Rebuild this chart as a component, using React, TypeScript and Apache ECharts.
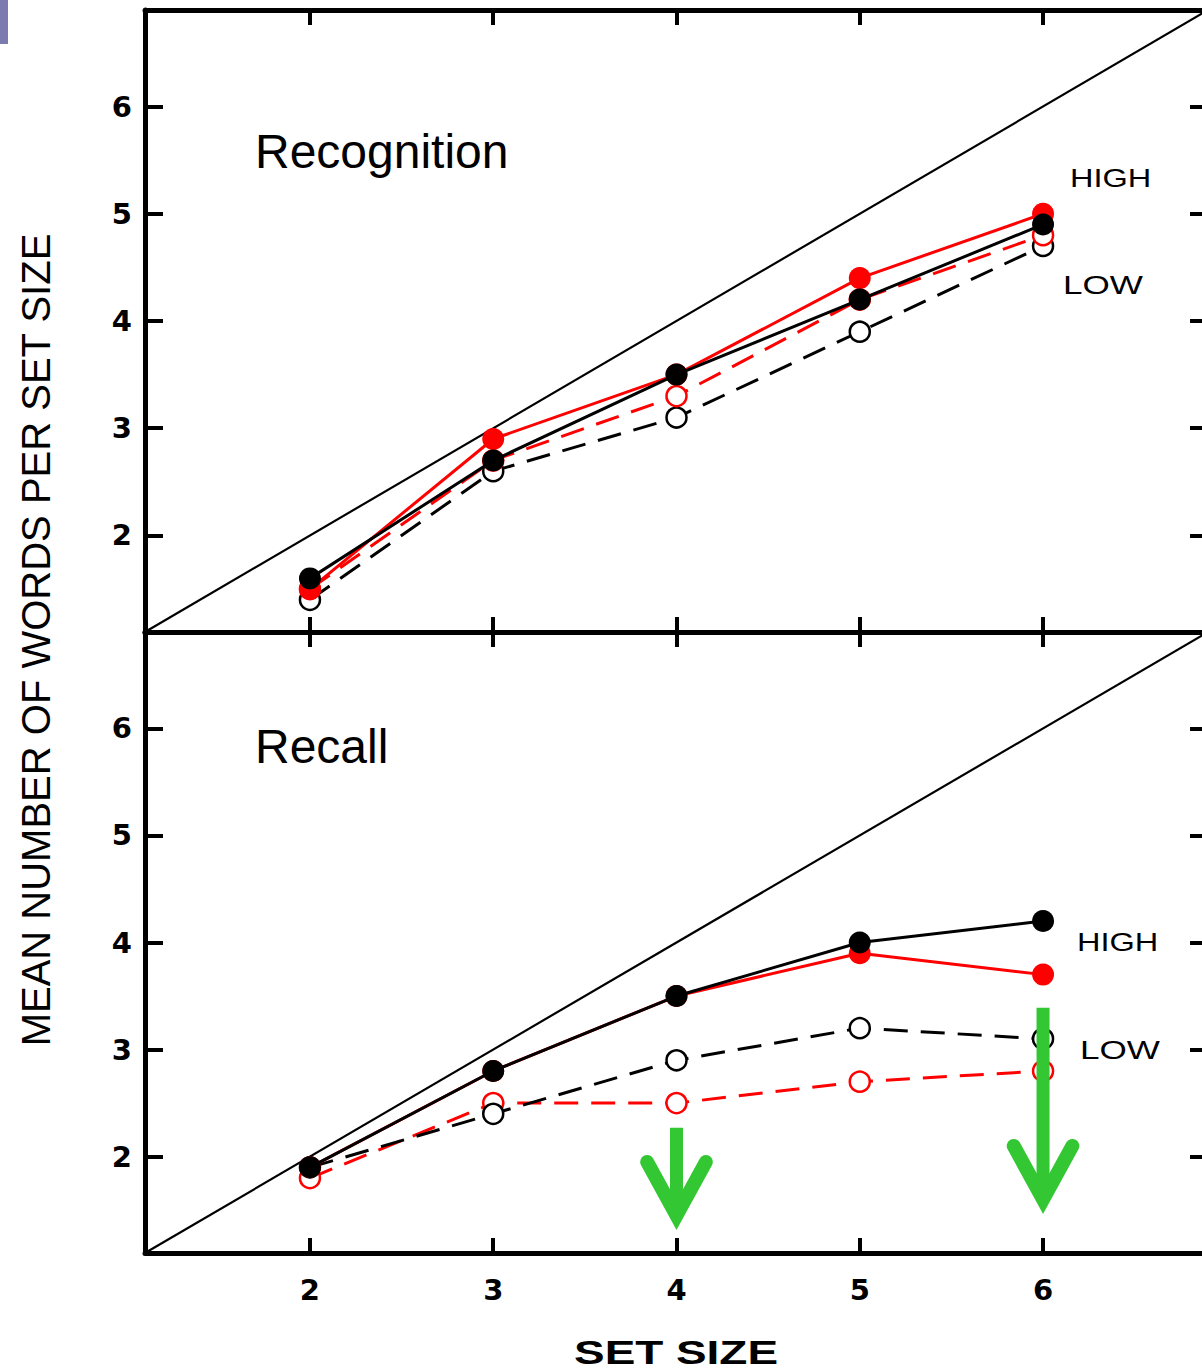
import React, { useEffect, useRef } from "react";
import * as echarts from "echarts";

// ---- data ----
const setSizes = [2, 3, 4, 5, 6];
const tickValues = [2, 3, 4, 5, 6];
const axisRange = [1.1, 6.9];

const recogBlackFilled = [1.6, 2.7, 3.5, 4.2, 4.9];
const recogRedFilled = [1.5, 2.9, 3.5, 4.4, 5.0];
const recogRedOpen = [1.5, 2.7, 3.3, 4.2, 4.8];
const recogBlackOpen = [1.4, 2.6, 3.1, 3.9, 4.7];

const recallBlackFilled = [1.9, 2.8, 3.5, 4.0, 4.2];
const recallRedFilled = [1.9, 2.8, 3.5, 3.9, 3.7];
const recallBlackOpen = [1.9, 2.4, 2.9, 3.2, 3.1];
const recallRedOpen = [1.8, 2.5, 2.5, 2.7, 2.8];

// annotation arrows (recall panel, data coords)
const arrowX = [4, 6];
const arrowTail = [2.27, 3.39];
const arrowHead = [1.45, 1.6];

const RED = "#ff0000";
const BLACK = "#000000";
const GREEN = "#33c833";

function pts(ys: number[]) {
  return setSizes.map((x, i) => [x, ys[i]]);
}

const tickFont = {
  fontFamily: "DejaVu Sans",
  fontWeight: "bold",
  fontSize: 29,
  color: BLACK,
};

function xAx(gridIndex: number, position: string, showLabels: boolean) {
  return {
    type: "value",
    gridIndex,
    position,
    min: axisRange[0],
    max: axisRange[1],
    axisLine: { show: true, onZero: false, lineStyle: { color: BLACK, width: 5 } },
    axisTick: {
      show: true,
      inside: true,
      length: 15,
      customValues: tickValues,
      lineStyle: { color: BLACK, width: 4 },
    },
    axisLabel: {
      show: showLabels,
      customValues: tickValues,
      margin: 22,
      ...tickFont,
    },
    splitLine: { show: false },
  };
}

function yAx(gridIndex: number, position: string, showLabels: boolean) {
  return {
    type: "value",
    gridIndex,
    position,
    min: axisRange[0],
    max: axisRange[1],
    axisLine: { show: true, onZero: false, lineStyle: { color: BLACK, width: 5 } },
    axisTick: {
      show: true,
      inside: true,
      length: 18,
      customValues: tickValues,
      lineStyle: { color: BLACK, width: 4 },
    },
    axisLabel: {
      show: showLabels,
      customValues: tickValues,
      margin: 13,
      ...tickFont,
    },
    splitLine: { show: false },
  };
}

function dataSeries(axisIdx: number, ys: number[], color: string, filled: boolean, z: number) {
  return {
    type: "line",
    xAxisIndex: axisIdx,
    yAxisIndex: axisIdx,
    data: pts(ys),
    symbol: "circle",
    symbolSize: filled ? 22 : 20,
    itemStyle: filled
      ? { color }
      : { color: "#ffffff", borderColor: color, borderWidth: 2.5 },
    lineStyle: { color, width: 3, type: filled ? "solid" : [24, 13] },
    z,
    silent: true,
  };
}

function diagSeries(axisIdx: number) {
  return {
    type: "line",
    xAxisIndex: axisIdx,
    yAxisIndex: axisIdx,
    data: [
      [axisRange[0], axisRange[0]],
      [axisRange[1], axisRange[1]],
    ],
    symbol: "none",
    lineStyle: { color: BLACK, width: 2.2 },
    z: 1,
    silent: true,
  };
}

function arrowSeries() {
  const out: any[] = [];
  arrowX.forEach((x, i) => {
    out.push({
      type: "line",
      xAxisIndex: 2,
      yAxisIndex: 2,
      data: [
        [x, arrowTail[i]],
        [x, arrowHead[i]],
      ],
      symbol: "none",
      lineStyle: { color: GREEN, width: 13, cap: "butt" },
      z: 20,
      silent: true,
    });
    out.push({
      type: "line",
      xAxisIndex: 2,
      yAxisIndex: 2,
      data: [
        [x - 0.16, arrowHead[i] + 0.5],
        [x, arrowHead[i]],
        [x + 0.16, arrowHead[i] + 0.5],
      ],
      symbol: "none",
      lineStyle: { color: GREEN, width: 14, cap: "round", join: "miter" },
      z: 20,
      silent: true,
    });
  });
  return out;
}

function label(text: string, x: number, y: number, fontSize: number, opts: any = {}) {
  return {
    type: "text",
    x,
    y,
    rotation: opts.rotation || 0,
    scaleX: opts.scaleX || 1,
    z: 50,
    style: {
      text,
      fill: BLACK,
      fontSize,
      fontFamily: opts.fontFamily || "Liberation Sans, Arial, sans-serif",
      fontWeight: opts.fontWeight || "normal",
      textAlign: opts.align || "left",
      align: opts.align || "left",
      textVerticalAlign: "middle",
      verticalAlign: "middle",
    },
  };
}

export default function App() {
  const ref = useRef<HTMLDivElement>(null);

  useEffect(() => {
    document.body.style.margin = "0";
    const chart = echarts.init(ref.current!, null, { renderer: "svg" });
    const option: any = {
      animation: false,
      backgroundColor: "#ffffff",
      grid: [
        { left: 145, top: 10, width: 1063, height: 622, outerBoundsMode: "none", containLabel: false },
        { left: 145, top: 632, width: 1063, height: 621, outerBoundsMode: "none", containLabel: false },
      ],
      xAxis: [
        xAx(0, "bottom", false),
        xAx(0, "top", false),
        xAx(1, "bottom", true),
        xAx(1, "top", false),
      ],
      yAxis: [
        yAx(0, "left", true),
        yAx(0, "right", false),
        yAx(1, "left", true),
        yAx(1, "right", false),
      ],
      series: [
        diagSeries(0),
        dataSeries(0, recogBlackOpen, BLACK, false, 3),
        dataSeries(0, recogRedOpen, RED, false, 4),
        dataSeries(0, recogRedFilled, RED, true, 5),
        dataSeries(0, recogBlackFilled, BLACK, true, 6),
        diagSeries(2),
        dataSeries(2, recallRedOpen, RED, false, 3),
        dataSeries(2, recallBlackOpen, BLACK, false, 4),
        dataSeries(2, recallRedFilled, RED, true, 5),
        dataSeries(2, recallBlackFilled, BLACK, true, 6),
        ...arrowSeries(),
      ],
      graphic: [
        { type: "rect", shape: { x: 0, y: 0, width: 8, height: 44 }, style: { fill: "#7b7bb0" }, z: 50 },
        label("Recognition", 255, 151, 48),
        label("Recall", 255, 746, 48),
        label("HIGH", 1070, 178, 26, { scaleX: 1.25 }),
        label("LOW", 1063, 285, 26, { scaleX: 1.35 }),
        label("HIGH", 1077, 942, 26, { scaleX: 1.25 }),
        label("LOW", 1080, 1050, 26, { scaleX: 1.35 }),
        label("SET SIZE", 676, 1352, 34, { scaleX: 1.35, align: "center", fontWeight: "bold" }),
        label("MEAN NUMBER OF WORDS PER SET SIZE", 36, 640, 40, { rotation: Math.PI / 2, align: "center" }),
      ],
    };
    chart.setOption(option);
    return () => chart.dispose();
  }, []);

  return <div ref={ref} style={{ width: 1202, height: 1371 }} />;
}
